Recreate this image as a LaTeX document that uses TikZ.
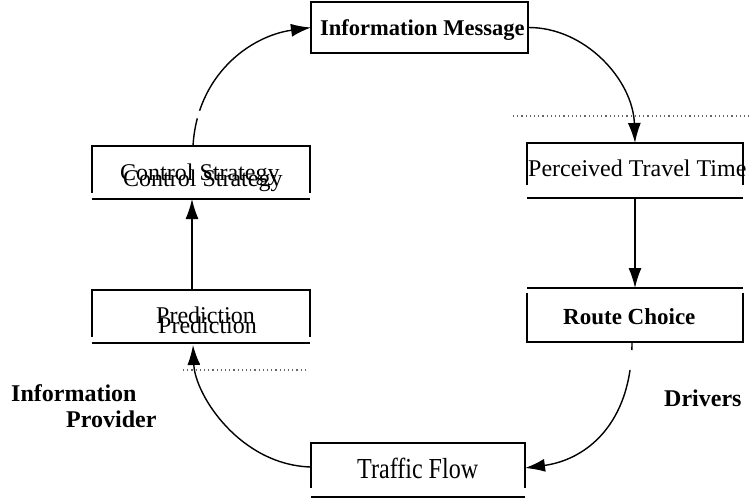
\documentclass[tikz,border=0pt]{standalone}
\usepackage{fontspec}
\usepackage{graphicx}
\setmainfont{Liberation Serif}
\usetikzlibrary{arrows.meta}
\begin{document}
\begin{tikzpicture}[x=1pt,y=-1pt,
  box/.style={draw=none, inner sep=0pt, outer sep=0pt},
  edge/.style={line width=1.3pt, black},
  flow/.style={line width=1.4pt, black, -{Latex[length=20pt,width=13pt]}},
  txt/.style={font=\fontsize{24}{28}\selectfont, inner sep=0pt, anchor=base west},
  btxt/.style={font=\bfseries\fontsize{24}{26}\selectfont, inner sep=0pt},
  dots/.style={line width=1.1pt, black!60, dash pattern=on 1.2pt off 3pt}]
\useasboundingbox (0,0) rectangle (749,499);

% frames of the six stages
\node[box, minimum width=217pt, minimum height=51pt] (im) at (419.5,27.5) {};
\node[box, minimum width=216pt, minimum height=42pt] (pt) at (635,164) {};
\node[box, minimum width=216pt, minimum height=49pt] (rc) at (635,317.5) {};
\node[box, minimum width=218pt, minimum height=47pt] (cs) at (201,169.5) {};
\node[box, minimum width=218pt, minimum height=47pt] (pr) at (201,313.5) {};
\node[box, minimum width=214pt, minimum height=45pt] (tf) at (418,465.5) {};

\draw[edge] (im.south west) rectangle (im.north east);
\draw[edge] (pt.south west) -- (pt.north west) -- (pt.north east) -- (pt.south east);
\draw[edge] ([yshift=-13pt]pt.south west) -- ([yshift=-13pt]pt.south east);
\draw[edge] (rc.north west) -- (rc.south west) -- (rc.south east) -- (rc.north east);
\draw[edge] ([yshift=5pt]rc.north west) -- ([yshift=5pt]rc.north east);
\draw[edge] (cs.south west) -- (cs.north west) -- (cs.north east) -- (cs.south east);
\draw[edge] ([yshift=-6pt]cs.south west) -- ([yshift=-6pt]cs.south east);
\draw[edge] (pr.south west) -- (pr.north west) -- (pr.north east) -- (pr.south east);
\draw[edge] ([yshift=-6pt]pr.south west) -- ([yshift=-6pt]pr.south east);
\draw[edge] (tf.south west) -- (tf.north west) -- (tf.north east) -- (tf.south east);
\draw[edge] ([yshift=-9pt]tf.south west) -- ([yshift=-9pt]tf.south east);

% stage texts (two of them are printed twice, slightly offset)
\node[txt, font=\bfseries\fontsize{22.5}{26}\selectfont] (imt) at (320,35) {Information Message};
\node[txt] (ptt) at (528,176) {Perceived Travel Time};
\node[txt, font=\bfseries\fontsize{23}{27}\selectfont] (rct) at (563,324) {Route Choice};
\node[txt] (cst1) at (120,180) {Control Strategy};
\node[txt] (cst2) at (123,186) {Control Strategy};
\node[txt] (prt1) at (156,323) {Prediction};
\node[txt] (prt2) at (158,333) {Prediction};
\node[txt, font=\fontsize{29}{32}\selectfont] (tft) at (357,478) {\scalebox{0.83}[1]{Traffic Flow}};

% side labels
\node[btxt, align=left, anchor=north west] (ip) at (11,384) {Information\\\hspace*{55pt}Provider};
\node[btxt, anchor=base west] (dr) at (664,406) {Drivers};

% dotted separators
\draw[dots] (513,116) -- (749,116);
\draw[dots] (183,370) -- (307,370);

% the cycle
\draw[flow, dash pattern=on 28pt off 8pt on 2000pt]
  ([xshift=-8pt]cs.north) .. controls (197,75) and (250,36) .. (im.west);
\draw[flow] (im.east) .. controls (585,27) and (633,80) .. (pt.north);
\draw[flow] ([yshift=-13pt]pt.south) -- ([yshift=5pt]rc.north);
\draw[flow, dash pattern=on 8pt off 20pt on 2000pt]
  ([xshift=-3pt]rc.south) .. controls (632,425) and (585,460) .. ([yshift=-2.5pt]tf.east);
\draw[flow] ([yshift=-1.5pt]tf.west) .. controls (240,465) and (195,395) .. ([xshift=-8pt,yshift=-8pt]pr.south);
\draw[flow] ([xshift=-9pt]pr.north) -- ([xshift=-9pt,yshift=-6pt]cs.south);
\end{tikzpicture}
\end{document}
